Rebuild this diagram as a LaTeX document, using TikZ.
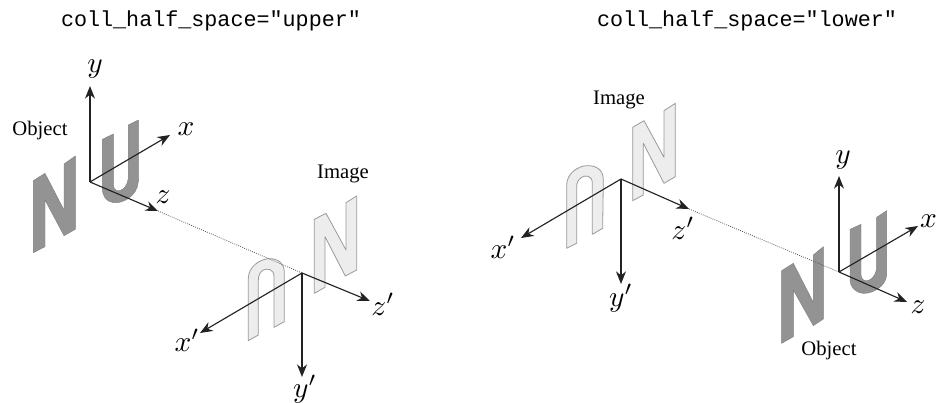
\documentclass[tikz,border=0pt]{standalone}
\usepackage{fontspec}
\setmainfont{Liberation Serif}
\newfontfamily\titlefont{Liberation Mono}
\usetikzlibrary{arrows.meta}
\definecolor{objfill}{HTML}{939393}
\definecolor{imgfill}{HTML}{EDEDED}
\definecolor{imgedge}{HTML}{9A9A9A}
\definecolor{inkc}{HTML}{222222}
\tikzset{
  x=0.75pt,y=-0.75pt,
  zoomed/.style={x=0.25pt,y=-0.25pt},
  objshape/.style={fill=objfill,draw=objfill!85!black,line width=0.3pt,line join=round},
  imgshape/.style={fill=imgfill,draw=imgedge,line width=0.6pt,line join=round},
  axis/.style={draw=inkc,line width=0.85pt,-{Stealth[length=9.5pt,width=7.5pt]}},
  sightline/.style={draw=inkc!80,line width=0.6pt,densely dotted},
  titlelabel/.style={font=\titlefont\fontsize{16.3}{20}\selectfont,text=black,inner sep=0pt},
  caption/.style={font=\fontsize{15.5}{18}\selectfont,text=black,inner sep=0pt},
  axislabel/.style={scale=2.2,text=black,inner sep=0pt}
}
\begin{document}
\begin{tikzpicture}
\useasboundingbox (0,0) rectangle (936,403);
\fill[white] (0,0) rectangle (936,403);

\node[titlelabel] (titleA) at (211,21) {coll\_half\_space="upper"};
\node[titlelabel] (titleB) at (747,21) {coll\_half\_space="lower"};

% ---------- left panel
\coordinate (oA) at (90,182);
\coordinate (iA) at (302,273);
\coordinate (yA) at (90,86);
\coordinate (xA) at (170,135);
\coordinate (zA) at (158,211);
\coordinate (xpA) at (200,333);
\coordinate (ypA) at (302,377);
\coordinate (zpA) at (370,301);

\begin{scope}[shift={(0,60)},zoomed]
  \path[objshape] (100,362)--(135,340)--(192,450)--(192,312)--(226,288)--(226,508)--(192,527)--(135,420)--(135,560)--(100,578)--cycle;
  \path[objshape] (307,238)--(340,222)--(340,375).. controls (342,405) and (380,395) .. (385,355)--(385,195)--(415,180)--(415,365).. controls (412,410) and (365,432) .. (340,428).. controls (320,425) and (307,410) .. (307,385)--cycle;
\end{scope}
\begin{scope}[shift={(220,170)},zoomed]
  \path[imgshape] (283,148)--(318,130)--(378,240)--(378,98)--(410,78)--(410,300)--(376,318)--(315,200)--(315,352)--(283,370)--cycle;
  \path[imgshape] (85,512)--(85,325).. controls (85,290) and (120,268) .. (145,266).. controls (175,265) and (192,280) .. (193,305)--(193,455)--(162,472)--(162,320).. controls (162,295) and (140,295) .. (130,300).. controls (120,305) and (115,318) .. (115,330)--(115,495)--cycle;
\end{scope}
\draw[sightline] (zA) -- (iA);
\draw[axis] (oA) -- (yA);
\draw[axis] (oA) -- (xA);
\draw[axis] (oA) -- (zA);
\draw[axis] (iA) -- (xpA);
\draw[axis] (iA) -- (ypA);
\draw[axis] (iA) -- (zpA);

\node[axislabel] (lyA) at (95,69) {$y$};
\node[axislabel] (lxA) at (186,129) {$x$};
\node[axislabel] (lzA) at (163,197) {$z$};
\node[axislabel] (lxpA) at (187,340) {$x'$};
\node[axislabel] (lypA) at (305,389) {$y'$};
\node[axislabel] (lzpA) at (383,304) {$z'$};
\node[caption] (objA) at (40,131) {Object};
\node[caption] (imgA) at (343,174) {Image};

% ---------- right panel
\coordinate (oB) at (839,272);
\coordinate (iB) at (621,179);
\coordinate (yB) at (839,176);
\coordinate (xB) at (918,226);
\coordinate (zB) at (907,302);
\coordinate (xpB) at (521,238);
\coordinate (ypB) at (621,284);
\coordinate (zpB) at (689,209);

\begin{scope}[shift={(760,140)},zoomed]
  \path[objshape] (65,392)--(100,370)--(160,487)--(160,345)--(190,320)--(190,537)--(160,557)--(100,450)--(100,590)--(65,610)--cycle;
  \path[objshape] (270,268)--(303,253)--(303,405).. controls (305,435) and (345,425) .. (350,385)--(350,232)--(380,212)--(380,405).. controls (378,440) and (335,462) .. (310,460).. controls (285,458) and (270,440) .. (270,420)--cycle;
\end{scope}
\begin{scope}[shift={(490,80)},zoomed]
  \path[imgshape] (428,142)--(462,122)--(522,232)--(522,92)--(556,70)--(556,290)--(522,310)--(460,190)--(460,345)--(428,362)--cycle;
  \path[imgshape] (230,505)--(230,315).. controls (230,280) and (265,258) .. (290,257).. controls (320,256) and (340,270) .. (340,300)--(338,445)--(307,463)--(307,310).. controls (307,285) and (285,285) .. (275,292).. controls (265,298) and (260,308) .. (260,320)--(260,490)--cycle;
\end{scope}
\draw[sightline] (zpB) -- (oB);
\draw[axis] (oB) -- (yB);
\draw[axis] (oB) -- (xB);
\draw[axis] (oB) -- (zB);
\draw[axis] (iB) -- (xpB);
\draw[axis] (iB) -- (ypB);
\draw[axis] (iB) -- (zpB);

\node[axislabel] (lyB) at (843,160) {$y$};
\node[axislabel] (lxB) at (928.5,221) {$x$};
\node[axislabel] (lzB) at (918,307) {$z$};
\node[axislabel] (lxpB) at (503,247) {$x'$};
\node[axislabel] (lypB) at (621,298) {$y'$};
\node[axislabel] (lzpB) at (683,228) {$z'$};
\node[caption] (objB) at (829,351) {Object};
\node[caption] (imgB) at (619,100) {Image};
\end{tikzpicture}
\end{document}
